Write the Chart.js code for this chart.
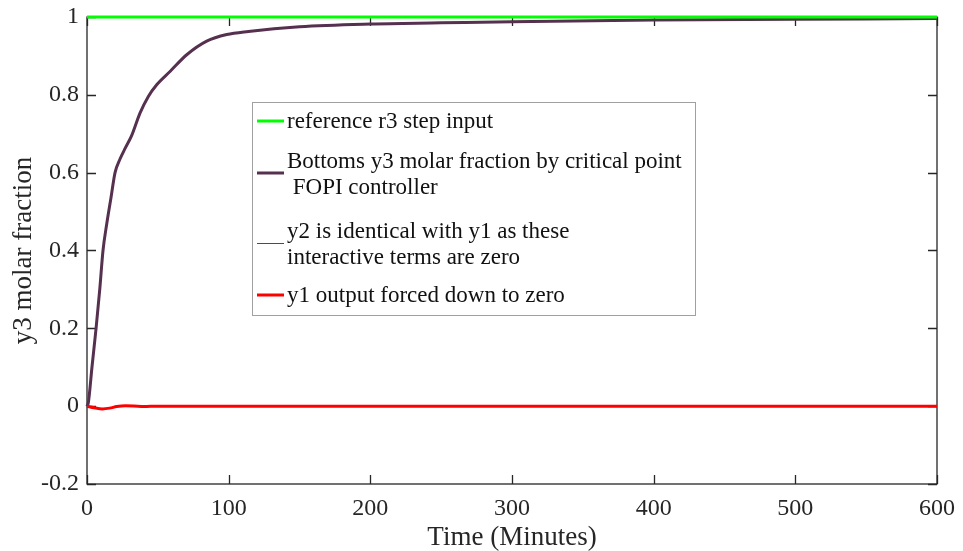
<!DOCTYPE html>
<html>
<head>
<meta charset="utf-8">
<script src="https://cdn.jsdelivr.net/npm/chart.js@4"></script>
<style>
  body { margin: 0; background: #fff; }
  #wrap { width: 963px; height: 551px; }
</style>
</head>
<body>
<div id="wrap"><canvas id="response-chart" width="963" height="551"></canvas></div>
<script>
// time axis (minutes) and tick values
const xTicks = [0, 100, 200, 300, 400, 500, 600];
const yTicks = [-0.2, 0, 0.2, 0.4, 0.6, 0.8, 1];

// r3 step reference
const refTime = [0, 600];
const refValue = [1, 1];

// bottoms y3 response under the FOPI controller
const y3Time = [0, 1, 3.5, 6.4, 9, 11.3, 14, 16.9, 19.8, 23.3, 27, 31.5, 37.4, 43.3, 49.2, 58.6, 70.4, 84.5, 98.6, 113.9, 150, 200, 250, 300, 400, 500, 600];
const y3Value = [0, 0.01, 0.1, 0.2, 0.3, 0.4, 0.47, 0.535, 0.6, 0.635, 0.663, 0.695, 0.753, 0.796, 0.826, 0.86, 0.903, 0.938, 0.955, 0.963, 0.975, 0.982, 0.985, 0.988, 0.992, 0.994, 0.996];

// y1 (and y2, which is the same) pushed to zero
const y1Time = [0, 5, 11, 16, 21, 27, 33, 40, 50, 60, 80, 100, 600];
const y1Value = [0, -0.004, -0.007, -0.005, -0.001, 0.001, 0.0005, -0.001, 0, 0, 0, 0, 0];

const legendText = [
  ['reference r3 step input'],
  ['Bottoms y3 molar fraction by critical point', ' FOPI controller'],
  ['y2 is identical with y1 as these', 'interactive terms are zero'],
  ['y1 output forced down to zero']
];

const pts = (xs, ys) => xs.map((x, i) => ({x: x, y: ys[i]}));

const axisColor = '#262626';
const serif = '"Liberation Serif", "Times New Roman", serif';

// box outline plus inward ticks on all four sides
const boxPlugin = {
  id: 'box',
  beforeDatasetsDraw(chart) {
    const {ctx, chartArea: a, scales: {x, y}} = chart;
    ctx.save();
    ctx.strokeStyle = axisColor;
    ctx.lineWidth = 1.3;
    ctx.strokeRect(a.left, a.top, a.right - a.left, a.bottom - a.top);
    ctx.beginPath();
    xTicks.forEach(v => {
      const px = Math.round(x.getPixelForValue(v)) + 0.5;
      ctx.moveTo(px, a.bottom); ctx.lineTo(px, a.bottom - 9);
      ctx.moveTo(px, a.top); ctx.lineTo(px, a.top + 9);
    });
    yTicks.forEach(v => {
      const py = Math.round(y.getPixelForValue(v)) + 0.5;
      ctx.moveTo(a.left, py); ctx.lineTo(a.left + 9, py);
      ctx.moveTo(a.right, py); ctx.lineTo(a.right - 9, py);
    });
    ctx.stroke();
    ctx.restore();
  }
};

// legend box with wrapped entries
const legendPlugin = {
  id: 'boxLegend',
  afterDraw(chart) {
    const {ctx} = chart;
    const left = 252, top = 102, w = 443, h = 213;
    const firstLine = [122, 162, 232, 296];
    const sampleY = [121, 173, 243.5, 295];
    const sets = chart.data.datasets;
    ctx.save();
    ctx.fillStyle = '#fff';
    ctx.fillRect(left, top, w, h);
    ctx.strokeStyle = '#a0a0a0';
    ctx.lineWidth = 1;
    ctx.strokeRect(left + 0.5, top + 0.5, w, h);
    ctx.font = '23px ' + serif;
    ctx.textBaseline = 'middle';
    ctx.textAlign = 'left';
    legendText.forEach((lines, i) => {
      const ds = sets[i];
      ctx.strokeStyle = ds.borderColor;
      ctx.lineWidth = ds.borderWidth;
      ctx.beginPath();
      ctx.moveTo(257, sampleY[i]);
      ctx.lineTo(284, sampleY[i]);
      ctx.stroke();
      ctx.fillStyle = '#111';
      lines.forEach((t, k) => ctx.fillText(t, 287, firstLine[i] + k * 26));
    });
    ctx.restore();
  }
};

new Chart(document.getElementById('response-chart'), {
  type: 'line',
  data: {
    datasets: [{
      label: legendText[0].join(' '),
      data: pts(refTime, refValue),
      borderColor: '#00ff00',
      borderWidth: 3,
      clip: false,
      order: 0
    }, {
      label: legendText[1].join(' '),
      data: pts(y3Time, y3Value),
      borderColor: '#56304f',
      borderWidth: 3,
      cubicInterpolationMode: 'monotone',
      clip: false,
      order: 2
    }, {
      label: legendText[2].join(' '),
      data: pts(y1Time, y1Value),
      borderColor: '#ff0000',
      borderWidth: 1,
      cubicInterpolationMode: 'monotone',
      order: 3
    }, {
      label: legendText[3].join(' '),
      data: pts(y1Time, y1Value),
      borderColor: '#ff0000',
      borderWidth: 3,
      cubicInterpolationMode: 'monotone',
      clip: false,
      order: 1
    }]
  },
  options: {
    responsive: false,
    animation: false,
    events: [],
    elements: { point: { radius: 0 } },
    layout: { padding: { top: 17, right: 26, left: 0, bottom: 0 } },
    plugins: { legend: { display: false }, tooltip: { enabled: false } },
    scales: {
      x: {
        type: 'linear',
        min: 0,
        max: 600,
        afterBuildTicks: s => { s.ticks = xTicks.map(v => ({value: v})); },
        afterFit: s => { s.height = 67; s.paddingLeft = 0; s.paddingRight = 0; },
        grid: { display: false, drawTicks: false },
        border: { display: false },
        ticks: { color: axisColor, padding: 10, maxRotation: 0, font: { family: serif, size: 24 } },
        title: { display: true, text: 'Time (Minutes)', color: axisColor, padding: 0,
                 font: { family: serif, size: 27, lineHeight: 1 } }
      },
      y: {
        min: -0.2,
        max: 1,
        afterBuildTicks: s => { s.ticks = yTicks.map(v => ({value: v})); },
        afterFit: s => { s.width = 87; s.paddingTop = 0; s.paddingBottom = 0; },
        grid: { display: false, drawTicks: false },
        border: { display: false },
        ticks: { color: axisColor, padding: 8, font: { family: serif, size: 24 },
                 callback: v => String(v) },
        title: { display: true, text: 'y3 molar fraction', color: axisColor, padding: { top: 10 },
                 font: { family: serif, size: 27, lineHeight: 1 } }
      }
    }
  },
  plugins: [boxPlugin, legendPlugin]
});
</script>
</body>
</html>
